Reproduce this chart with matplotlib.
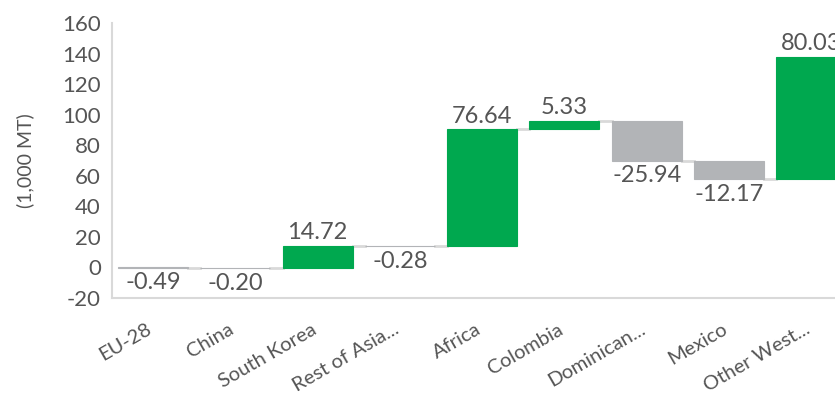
import numpy as np
import matplotlib.pyplot as plt

# export change by destination, 1,000 MT
categories = ["EU-28", "China", "South Korea", "Rest of Asia...", "Africa",
              "Colombia", "Dominican...", "Mexico", "Other West..."]
changes = [-0.49, -0.20, 14.72, -0.28, 76.64, 5.33, -25.94, -12.17, 80.03]

GREEN = "#00A84F"
GREY = "#B2B4B7"
LINE = "#D9D9D9"
TEXT = "#555555"

plt.rcParams['font.family'] = ['Lato', 'DejaVu Sans']
plt.rcParams['axes.unicode_minus'] = False

vals = np.array(changes)
ends = np.cumsum(vals)
starts = ends - vals
x = np.arange(len(categories))
width = 0.85

fig = plt.figure(figsize=(8.35, 3.96), dpi=100)
ax = fig.add_axes([112 / 835, 1 - 298 / 396, 1 - 112 / 835, (298 - 23) / 396])

colors = [GREEN if v > 0 else GREY for v in vals]
ax.bar(x, vals, bottom=starts, width=width, color=colors,
       edgecolor=colors, linewidth=0.8, zorder=3)

# connectors between bars
for i in range(len(x) - 1):
    ax.plot([x[i] + width / 2, x[i + 1] - width / 2], [ends[i], ends[i]],
            color=LINE, lw=2, zorder=2)

for i, v in enumerate(vals):
    if v > 0:
        ax.annotate(f"{v:.2f}", (x[i], ends[i]), xytext=(0, 2),
                    textcoords="offset points", ha="center", va="bottom",
                    fontsize=17, color=TEXT, annotation_clip=False)
    else:
        ax.annotate(f"{v:.2f}", (x[i], starts[i] + v), xytext=(0, -3),
                    textcoords="offset points", ha="center", va="top",
                    fontsize=17, color=TEXT)

ax.set_xlim(-0.5, 8.29)
ax.set_ylim(-20, 160)
ax.set_yticks(np.arange(-20, 161, 20))
ax.set_xticks(x)
ax.set_xticklabels(categories, rotation=30, ha="right", va="baseline",
                   rotation_mode="anchor")
ax.tick_params(axis="y", length=0, labelsize=16, labelcolor=TEXT, pad=8)
ax.tick_params(axis="x", length=0, labelsize=14.5, labelcolor=TEXT, pad=25)
ax.set_ylabel("(1,000 MT)", fontsize=14, color=TEXT, labelpad=20)

for s in ["top", "right"]:
    ax.spines[s].set_visible(False)
for s in ["left", "bottom"]:
    ax.spines[s].set_color(LINE)
    ax.spines[s].set_linewidth(1.5)

fig.savefig("out.png", dpi=100)
